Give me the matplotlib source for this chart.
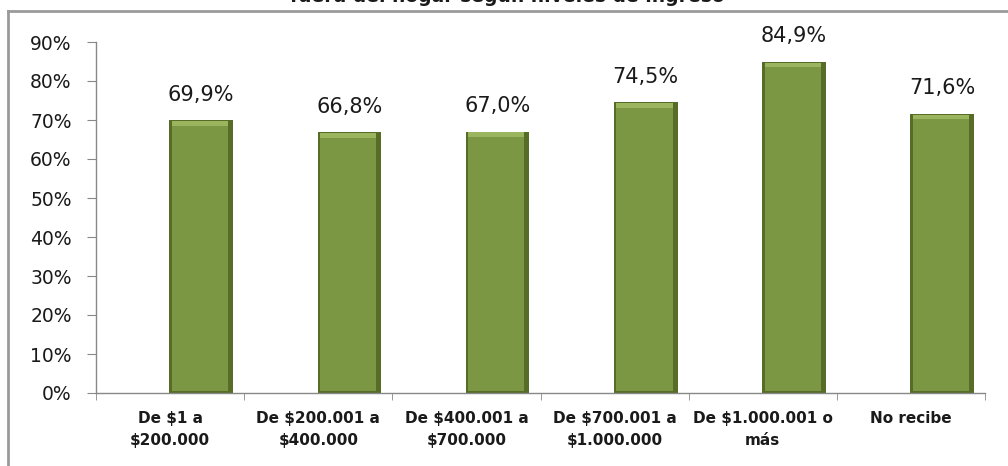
import numpy as np
import matplotlib.pyplot as plt
from matplotlib.ticker import MultipleLocator, FixedLocator, PercentFormatter
from matplotlib.lines import Line2D

title = "fuera del hogar según niveles de ingreso"
categories = ["De $1 a\n$200.000", "De $200.001 a\n$400.000", "De $400.001 a\n$700.000",
              "De $700.001 a\n$1.000.000", "De $1.000.001 o\nmás", "No recibe"]
values = [0.699, 0.668, 0.670, 0.745, 0.849, 0.716]
value_labels = ["69,9%", "66,8%", "67,0%", "74,5%", "84,9%", "71,6%"]

plt.rcParams['font.family'] = ['DejaVu Sans']

fig = plt.figure(figsize=(10.08, 4.66), dpi=100)
ax = fig.add_axes([96 / 1008, 1 - 393 / 466, (985 - 96) / 1008, (393 - 42) / 466])

x = np.arange(len(categories))
offset = 0.21   # bars sit right of the category centre
width = 0.43

# bevelled look: dark outer bar, lighter inner bar
ax.bar(x + offset, values, width=width, color='#566C27', zorder=2)
inner = [v - 0.014 for v in values]
ax.bar(x + offset - 0.008, inner, width=width - 0.05, bottom=0.004, color='#7C9744', zorder=3)
ax.bar(x + offset - 0.008, [0.012] * len(values), width=width - 0.05,
       bottom=[v - 0.014 for v in values], color='#9BB45E', zorder=3)

for xi, v, lab in zip(x, values, value_labels):
    ax.annotate(lab, xy=(xi + offset, v), xytext=(0, 14), textcoords='offset points',
                ha='center', va='baseline', fontsize=15, color='#1a1a1a')

ax.set_xlim(-0.5, len(categories) - 0.5)
ax.set_ylim(0, 0.9)
ax.yaxis.set_major_locator(MultipleLocator(0.1))
ax.yaxis.set_major_formatter(PercentFormatter(1.0, decimals=0))

ax.set_xticks(x)
ax.set_xticklabels(categories, fontsize=11, fontweight='bold', linespacing=1.6, color='#1a1a1a')
ax.xaxis.set_minor_locator(FixedLocator(np.arange(-0.5, len(categories), 1.0)))
ax.tick_params(axis='x', which='major', length=0, pad=13)
ax.tick_params(axis='x', which='minor', length=5, color='#888888', direction='out')
ax.tick_params(axis='y', length=6.5, color='#888888', pad=11, labelsize=13.5, labelcolor='#1a1a1a')

for side in ['top', 'right']:
    ax.spines[side].set_visible(False)
for side in ['left', 'bottom']:
    ax.spines[side].set_color('#888888')
    ax.spines[side].set_linewidth(1)

# chart frame (top and left edges visible)
fig.add_artist(Line2D([8 / 1008, 8 / 1008], [0, 1 - 11 / 466], color='#9a9a9a', lw=2))
fig.add_artist(Line2D([8 / 1008, 1], [1 - 11 / 466, 1 - 11 / 466], color='#9a9a9a', lw=2))

fig.text(507 / 1008, 1 - 2 / 466, title, ha='center', va='baseline', fontsize=13.5,
         fontweight='bold', color='#1a1a1a')

fig.savefig('out.png', dpi=100)
